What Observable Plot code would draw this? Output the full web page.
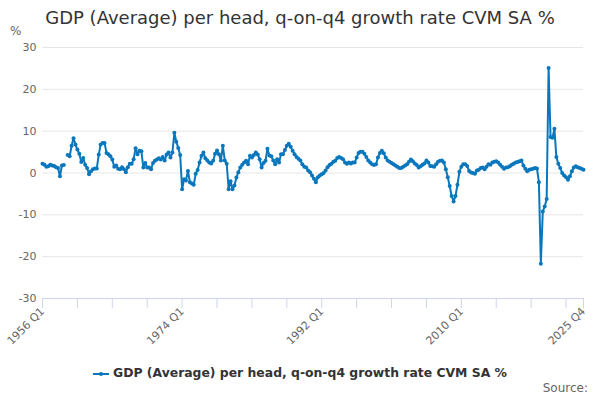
<!DOCTYPE html>
<html><head><meta charset="utf-8">
<script src="https://cdn.jsdelivr.net/npm/d3@7"></script>
<script src="https://cdn.jsdelivr.net/npm/@observablehq/plot@0.6"></script>
<style>
body{margin:0;background:#fff;font-family:"DejaVu Sans",sans-serif;}
#wrap{position:relative;width:600px;height:400px;overflow:hidden;background:#fff;}
#title{position:absolute;top:7px;left:0;width:600px;text-align:center;font-size:18px;color:#333;white-space:nowrap;}
#unit{position:absolute;left:10px;top:24px;font-size:12px;color:#666;}
#legend{position:absolute;top:365px;left:0;width:600px;text-align:center;font-size:12.4px;font-weight:bold;color:#333;white-space:nowrap;}
#legend svg{vertical-align:middle;margin-right:4px;}
#source{position:absolute;right:12px;top:381px;font-size:12px;color:#666;}
#chart{position:absolute;top:0;left:0;}
</style></head>
<body>
<div id="wrap">
  <div id="chart"></div>
  <div id="title"></div>
  <div id="unit">%</div>
  <div id="legend"></div>
  <div id="source">Source:</div>
</div>
<script>
const titleText = "GDP (Average) per head, q-on-q4 growth rate CVM SA %";
const seriesName = "GDP (Average) per head, q-on-q4 growth rate CVM SA %";
const startYear = 1956;
const lineColor = "#0a77bd";

// quarterly values, 1956 Q1 .. 2025 Q4
const growth = [
  2.2, 2.0, 1.5, 1.6, 2.0, 1.8, 1.7, 1.4, 1.2, -0.8, 1.8, 1.9,
  null, 4.3, 4.0, 6.5, 8.3, 6.8, 5.6, 4.6, 2.6, 3.6, 2.0, 1.2,
  -0.3, 0.4, 0.9, 1.1, 1.1, 4.4, 6.8, 7.2, 7.2, 4.8, 4.5, 4.0,
  3.2, 1.5, 1.8, 1.0, 0.9, 1.4, 0.9, 0.2, 1.4, 2.2, 2.2, 3.3,
  5.9, 4.5, 5.3, 5.2, 1.3, 2.4, 1.3, 1.3, 0.9, 2.4, 2.9, 3.2,
  3.5, 3.2, 3.8, 3.0, 4.4, 4.9, 3.7, 4.9, 9.6, 7.5, 6.0, 4.3,
  -3.9, -1.5, -1.8, 0.5, -2.2, -2.5, -2.8, -0.2, 0.7, 2.5, 4.1, 4.9,
  3.5, 3.0, 2.5, 2.3, 2.9, 4.6, 5.4, 4.5, 3.0, 6.5, 3.0, 2.2,
  -3.9, -2.0, -3.9, -3.0, -1.1, 0.2, 1.3, 2.0, 2.5, 2.9, 2.1, 4.1,
  3.7, 4.3, 4.9, 4.4, 3.3, 1.3, 2.4, 2.9, 5.8, 4.2, 4.0, 3.0,
  2.1, 3.3, 2.5, 4.5, 4.5, 5.5, 6.5, 7.0, 6.3, 5.3, 4.5, 3.8,
  3.4, 3.0, 2.1, 1.5, 1.3, 0.6, 0.2, -0.6, -1.4, -2.2, -1.0, -0.6,
  -0.3, 0.0, 0.6, 1.4, 1.9, 2.2, 2.7, 2.9, 3.6, 3.8, 3.6, 3.3,
  2.5, 2.2, 2.5, 2.3, 2.5, 2.5, 3.7, 4.8, 5.1, 5.1, 4.6, 3.8,
  3.0, 2.5, 2.1, 1.9, 2.1, 3.7, 4.8, 5.3, 4.7, 3.7, 3.0, 2.7,
  2.4, 2.1, 1.8, 1.5, 1.2, 1.2, 1.5, 1.8, 2.1, 2.7, 3.2, 2.8,
  2.3, 1.9, 1.3, 1.6, 2.0, 2.3, 3.0, 2.5, 1.7, 1.6, 1.5, 2.1,
  2.7, 2.9, 3.0, 2.5, 0.9, -1.0, -3.1, -5.5, -6.8, -5.5, -2.8, 0.3,
  1.5, 2.1, 2.1, 1.7, 0.5, 0.1, 0.0, -0.2, 0.6, 0.8, 1.2, 1.3,
  0.9, 1.5, 2.1, 2.0, 2.5, 2.7, 2.8, 2.5, 2.0, 1.5, 1.0, 1.3,
  1.4, 1.6, 2.0, 2.2, 2.5, 2.6, 2.8, 3.0, 1.8, 1.0, 0.4, 0.8,
  0.9, 1.0, 1.2, 1.1, -2.2, -21.7, -9.2, -8.0, -6.2, 25.1, 8.6, 8.4,
  10.6, 3.8, 2.2, 1.2, 0.0, -0.6, -1.0, -1.6, -0.8, 0.4, 1.3, 1.6,
  1.4, 1.2, 1.0, 0.8
];

const quarters = growth.map((_, i) => `${startYear + Math.floor(i / 4)} Q${(i % 4) + 1}`);
const xTickLabels = ["1956 Q1", "1974 Q1", "1992 Q1", "2010 Q1", "2025 Q4"];
const xTickEvery = 18;
const yTicks = [-30, -20, -10, 0, 10, 20, 30];

const data = growth.map((v, i) => ({i, q: quarters[i], v}));
const lastIdx = growth.length - 1;
const xTickPos = d3.range(0, lastIdx, xTickEvery).concat([lastIdx]);
const labelPos = new Map(xTickLabels.map(l => [quarters.indexOf(l), l]));

document.getElementById("title").textContent = titleText;
document.getElementById("legend").innerHTML =
  `<svg width="16" height="10"><line x1="0" y1="5" x2="16" y2="5" stroke="${lineColor}" stroke-width="2"/><circle cx="8" cy="5" r="2" fill="${lineColor}"/></svg>` +
  `<span></span>`;
document.querySelector("#legend span").textContent = seriesName;

const chart = Plot.plot({
  width: 600,
  height: 400,
  marginTop: 47,
  marginBottom: 102,
  marginLeft: 42,
  marginRight: 17,
  style: {fontFamily: "DejaVu Sans, sans-serif", fontSize: "11px", background: "transparent"},
  x: {domain: [0, lastIdx], axis: null},
  y: {domain: [-30, 30], axis: null},
  marks: [
    Plot.ruleY(yTicks.filter(t => t > -30), {stroke: "#e6e6e6", strokeWidth: 1}),
    Plot.axisY({ticks: yTicks, tickSize: 0, tickPadding: 6, label: null, fill: "#666", tickFormat: d => String(d)}),
    Plot.ruleY([-30], {stroke: "#ccd6eb", strokeWidth: 1}),
    Plot.axisX({ticks: xTickPos, tickSize: 10, tickPadding: 1, tickRotate: -45, label: null,
      stroke: "#ccd6eb", fill: "#666", tickFormat: d => labelPos.get(d) ?? ""}),
    Plot.lineY(data, {x: "i", y: "v", stroke: lineColor, strokeWidth: 2}),
    Plot.dot(data.filter(d => d.v != null), {x: "i", y: "v", r: 2, fill: lineColor, stroke: null})
  ]
});
document.getElementById("chart").appendChild(chart);
</script>
</body></html>
